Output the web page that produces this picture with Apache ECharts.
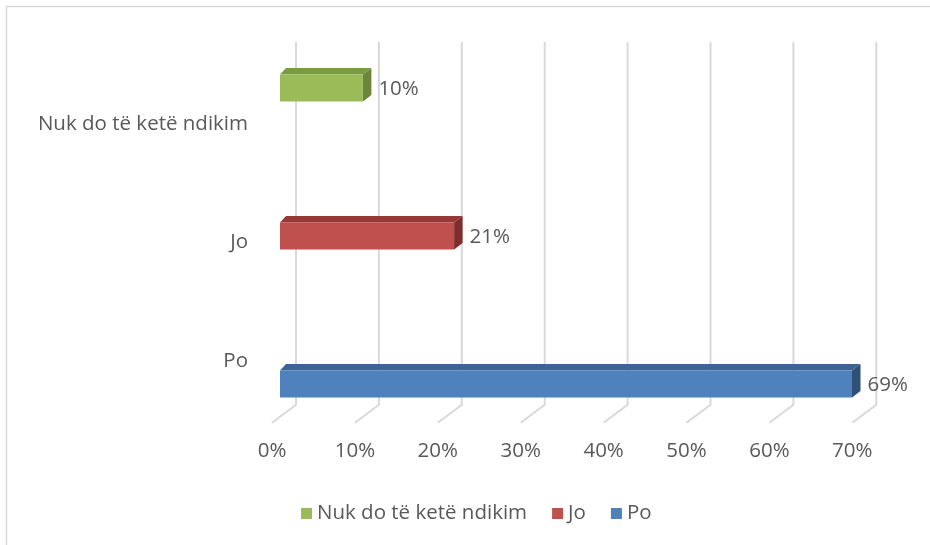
<!DOCTYPE html>
<html>
<head>
<meta charset="utf-8">
<script src="https://cdn.jsdelivr.net/npm/echarts@6/dist/echarts.min.js"></script>
<style>
  html, body { margin: 0; padding: 0; background: #fff; }
  #chart { width: 930px; height: 545px; }
</style>
</head>
<body>
<div id="chart"></div>
<script>
// Categories, bottom to top
const categories = ['Po', 'Jo', 'Nuk do të ketë ndikim'];
// One series per answer, shown in this order in the legend
const seriesNames = ['Nuk do të ketë ndikim', 'Jo', 'Po'];
const seriesValues = [10, 21, 69];
// Value axis ticks (percent)
const tickValues = [0, 10, 20, 30, 40, 50, 60, 70];

const FONT = '"Open Sans", "Noto Sans", sans-serif';
const FONT_SIZE = 20.5;
const TEXT = '#595959';
const GRID_LINE = '#D9D9D9';

// Face colours of the 3-D bars: front, top, side
const palette = {
  'Nuk do të ketë ndikim': ['#9BBB59', '#7A9A43', '#6B8539'],
  'Jo': ['#C0504D', '#973836', '#7E2E2C'],
  'Po': ['#4F81BD', '#3C6494', '#2F4F77']
};

// Depth of the 3-D walls and of the bars
const WALL_DX = 24, WALL_DY = 18;
const BAR_SHIFT = 8;      // bars sit inside the depth
const BAR_H = 27;

const chart = echarts.init(document.getElementById('chart'));

function wallRender(params, api) {
  const v = api.value(0);
  const x = api.coord([v, 0])[0];
  const cs = params.coordSys;
  const bottom = cs.y + cs.height + 2.5;
  return {
    type: 'polyline',
    shape: { points: [[x + WALL_DX, 42], [x + WALL_DX, bottom - WALL_DY], [x, bottom]] },
    style: { stroke: GRID_LINE, lineWidth: 2, fill: null }
  };
}

function barRender(name) {
  const cols = palette[name];
  return function (params, api) {
    const v = api.value(0);
    const cat = api.value(1);
    const p0 = api.coord([0, cat]);
    const p1 = api.coord([v, cat]);
    const xl = p0[0] + BAR_SHIFT;
    const xr = p1[0] + BAR_SHIFT;
    const yt = p0[1] - BAR_H / 2;
    const yb = p0[1] + BAR_H / 2;
    const dxl = 6, dxr = 8.5, dy = 6.5;
    return {
      type: 'group',
      children: [
        { type: 'polygon', shape: { points: [[xl, yt], [xl + dxl, yt - dy], [xr + dxr, yt - dy], [xr, yt]] },
          style: { fill: cols[1] } },
        { type: 'polygon', shape: { points: [[xr, yt], [xr + dxr, yt - dy], [xr + dxr, yb - dy], [xr, yb]] },
          style: { fill: cols[2] } },
        { type: 'rect', shape: { x: xl, y: yt, width: xr - xl, height: BAR_H },
          style: { fill: cols[0] } },
        { type: 'text', style: { text: v + '%', x: xr + dxr + 7, y: p0[1] + 1,
            fill: TEXT, fontSize: FONT_SIZE, fontFamily: FONT, verticalAlign: 'middle', align: 'left' } }
      ]
    };
  };
}

const barSeries = seriesNames.map((name, i) => ({
  name: name,
  type: 'custom',
  xAxisIndex: 0,
  yAxisIndex: 0,
  itemStyle: { color: palette[name][0] },
  renderItem: barRender(name),
  data: [[seriesValues[i], categories.indexOf(name)]],
  z: 3
}));

chart.setOption({
  backgroundColor: '#fff',
  animation: false,
  grid: [
    // bars
    { left: 272, width: 580.3, top: 14, height: 444 },
    // category labels, value labels and walls
    { left: 272, width: 580.3, top: 64.75, height: 355.5 }
  ],
  xAxis: [
    { gridIndex: 0, type: 'value', min: 0, max: 70, show: false },
    { gridIndex: 1, type: 'value', min: 0, max: 70, interval: 10,
      axisLine: { show: false }, axisTick: { show: false }, splitLine: { show: false },
      axisLabel: { formatter: '{value}%', color: TEXT, fontSize: FONT_SIZE, fontFamily: FONT, margin: 20 } }
  ],
  yAxis: [
    { gridIndex: 0, type: 'category', data: categories, show: false },
    { gridIndex: 1, type: 'category', data: categories,
      axisLine: { show: false }, axisTick: { show: false }, splitLine: { show: false },
      axisLabel: { color: TEXT, fontSize: FONT_SIZE, fontFamily: FONT, margin: 24 } }
  ],
  legend: {
    data: seriesNames,
    left: 296,
    top: 498,
    icon: 'rect',
    itemWidth: 11,
    itemHeight: 11,
    itemGap: 25,
    textStyle: { color: TEXT, fontSize: FONT_SIZE, fontFamily: FONT }
  },
  graphic: [
    { type: 'polyline', shape: { points: [[6.5, 545], [6.5, 6.5], [930, 6.5]] },
      style: { stroke: '#D9D9D9', lineWidth: 1.5, fill: null }, silent: true }
  ],
  series: [
    {
      name: 'walls',
      type: 'custom',
      xAxisIndex: 1,
      yAxisIndex: 1,
      renderItem: wallRender,
      data: tickValues.map(v => [v]),
      silent: true,
      z: 1
    }
  ].concat(barSeries)
});
</script>
</body>
</html>
